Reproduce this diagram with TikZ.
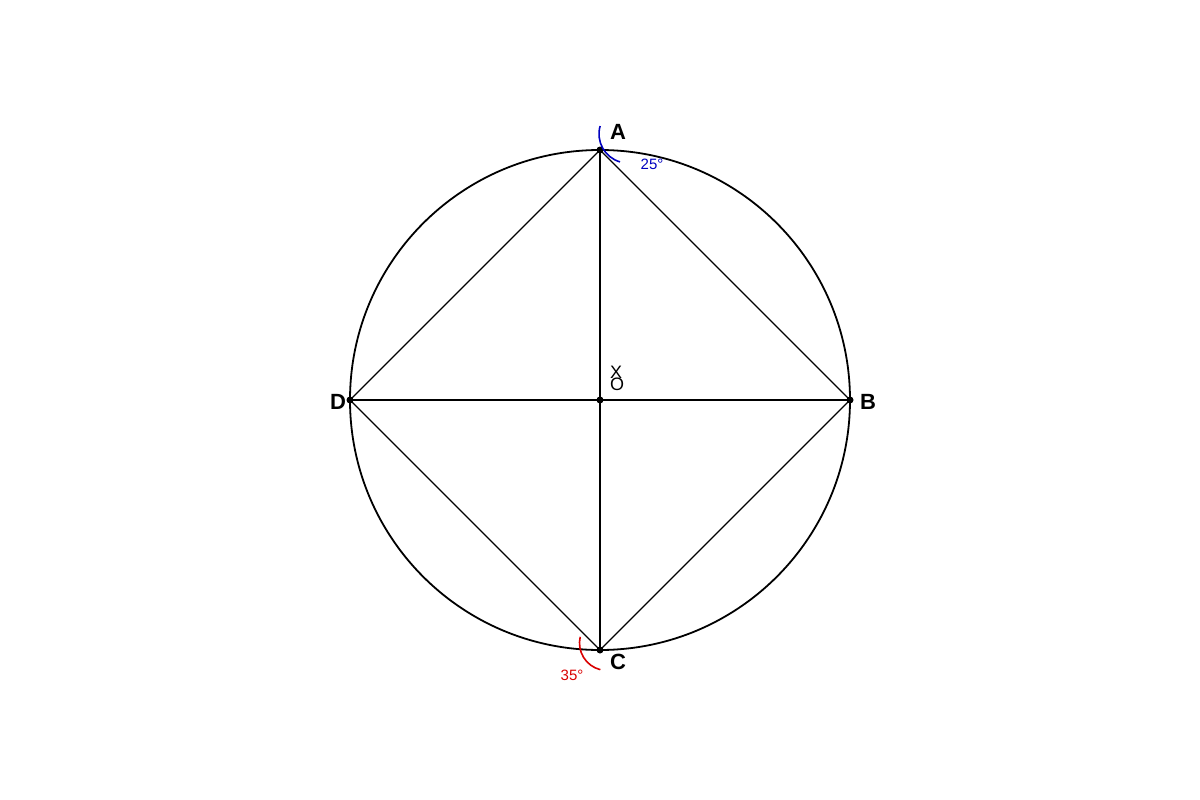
\documentclass[tikz,border=0pt]{standalone}
\usepackage{fontspec}
\setmainfont{Liberation Sans}
\begin{document}
\begin{tikzpicture}[x=1pt,y=-1pt,
  chord/.style={line width=1.2pt,black},
  vdot/.style={circle,fill=black,inner sep=0pt,minimum size=7pt},
  vlab/.style={font=\fontsize{22}{22}\selectfont\bfseries,inner sep=0pt},
  anglab/.style={font=\fontsize{15}{15}\selectfont,inner sep=0pt},
  olab/.style={font=\fontsize{18}{18}\selectfont,inner sep=0pt}]
\useasboundingbox (0,0) rectangle (1200,800);
\coordinate (O) at (600,400);
\draw[line width=1.8pt] (O) circle[radius=250];
\node[vdot] (A) at (600,150) {};
\node[vdot] (B) at (850,400) {};
\node[vdot] (C) at (600,650) {};
\node[vdot] (D) at (350,400) {};
\node[vdot] (Od) at (O) {};
\draw[chord] (A.center) -- (B.center) -- (C.center) -- (D.center) -- cycle;
\draw[chord] (A.center) -- (C.center);
\draw[chord] (D.center) -- (B.center);
\node[vlab] (lA) at (618,132) {A};
\node[vlab] (lB) at (868,402) {B};
\node[vlab] (lC) at (618,662) {C};
\node[vlab] (lD) at (338,402) {D};
\node[olab] (lX) at (616,372) {X};
\node[olab] (lO) at (617,384) {O};
\coordinate (ca) at (628,134);
\coordinate (cc) at (607,643);
\draw[blue!75!black,line width=1.6pt] ([shift={(196:29)}]ca) arc[start angle=196,end angle=106,radius=29];
\draw[red!85!black,line width=1.6pt] ([shift={(193:27.5)}]cc) arc[start angle=193,end angle=104,radius=27.5];
\node[anglab,text=blue!75!black] (a25) at (652,164) {25°};
\node[anglab,text=red!85!black] (a35) at (572,675) {35°};
\end{tikzpicture}
\end{document}
